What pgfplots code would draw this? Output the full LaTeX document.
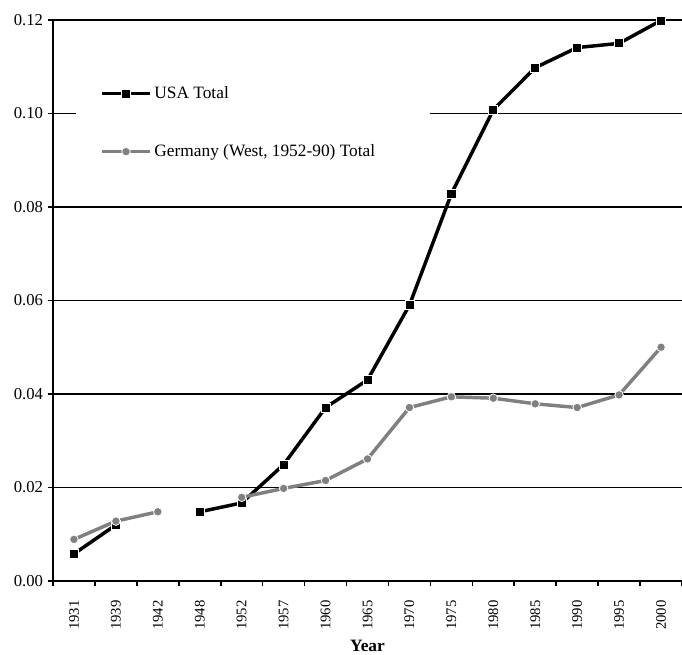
\documentclass[border=0pt]{standalone}
\usepackage{fontspec}
\setmainfont{Liberation Serif}
\usepackage{pgfplots}
\usepackage{pgfplotstable}
\pgfplotsset{compat=1.18}

% year, USA total, Germany total (nan = no observation)
\pgfplotstableread{
x  year usa    ger
0  1931 0.0058 0.0089
1  1939 0.0120 0.0128
2  1942 nan    0.0148
3  1948 0.0148 nan
4  1952 0.0167 0.0179
5  1957 0.0249 0.0198
6  1960 0.0371 0.0215
7  1965 0.0430 0.0261
8  1970 0.0590 0.0371
9  1975 0.0828 0.0394
10 1980 0.1008 0.0391
11 1985 0.1098 0.0379
12 1990 0.1141 0.0371
13 1995 0.1150 0.0398
14 2000 0.1199 0.0500
}\data

\definecolor{gergray}{RGB}{128,128,128}

\begin{document}
\begin{tikzpicture}
\begin{axis}[
    scale only axis,
    width=471.75pt, height=420.75pt,
    xmin=-0.5, xmax=14.5,
    ymin=0, ymax=0.12,
    axis x line*=bottom,
    axis y line*=left,
    axis line style={-, line width=1.4pt},
    xtick={0,...,14},
    xticklabels={1931,1939,1942,1948,1952,1957,1960,1965,1970,1975,1980,1985,1990,1995,2000},
    major x tick style={draw=none},
    minor xtick={-0.5,0.5,...,14.5},
    minor x tick style={line width=1.2pt, black},
    minor tick length=4pt,
    x tick label style={rotate=90, anchor=east, font=\fontsize{11}{13}\selectfont},
    xticklabel shift=7pt,
    ytick={0,0.02,...,0.12},
    y tick label style={font=\fontsize{12.5}{14}\selectfont,
        /pgf/number format/.cd, fixed, fixed zerofill, precision=2},
    /pgf/number format/assume math mode=true,
    scaled y ticks=false,
    tick align=outside,
    major tick length=4pt,
    major y tick style={line width=1.2pt, black},
    ymajorgrids,
    grid style={line width=1pt, black},
    xlabel={\textbf{Year}},
    xlabel style={font=\fontsize{13}{15}\selectfont, yshift=-1pt},
    unbounded coords=jump,
    clip=false,
    legend style={at={(rel axis cs:0.0366,0.817)}, anchor=west,
        draw=none, fill=white, inner xsep=18pt, inner ysep=14pt,
        row sep=29pt, font=\fontsize{13}{15}\selectfont},
    legend cell align=left,
    legend image code/.code={%
        \draw[mark repeat=2, mark phase=2] plot coordinates {(0pt,0pt) (18pt,0pt) (36pt,0pt)};},
]
\addplot[line width=2.6pt, black, mark=square*, mark size=3.4pt,
    mark options={fill=black, draw=white, line width=0.6pt}]
    table[x=x, y=usa] {\data};
\addlegendentry{USA Total}
\addplot[line width=2.6pt, gergray, mark=*, mark size=3.2pt,
    mark options={fill=gergray, draw=white, line width=0.6pt}]
    table[x=x, y=ger] {\data};
\addlegendentry{Germany (West, 1952-90) Total\kern21pt}
\coordinate (sw) at (rel axis cs:0,0);
\coordinate (ne) at (rel axis cs:1,1);
\end{axis}
\pgfresetboundingbox
\path ([shift={(-39.75pt,-55.5pt)}]sw) rectangle ([shift={(0pt,15pt)}]ne);
\end{tikzpicture}
\end{document}
